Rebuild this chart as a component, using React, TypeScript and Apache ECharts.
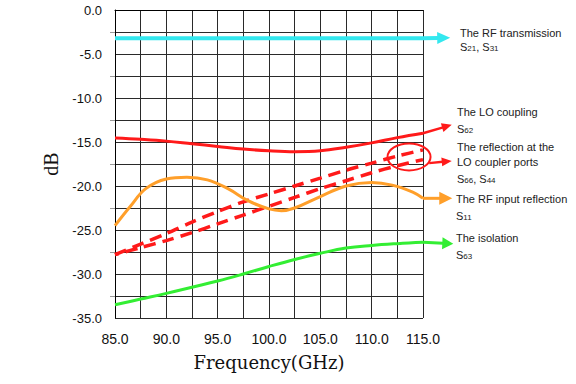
import React, { useEffect, useRef } from "react";
import * as echarts from "echarts";

// Frequency grid (GHz)
const freq = [85, 87.5, 90, 92.5, 95, 97.5, 100, 102.5, 105, 107.5, 110, 112.5, 115];
// S21, S31 — RF transmission (dB)
const rfTransmission = [-3.2, -3.2, -3.2, -3.2, -3.2, -3.2, -3.2, -3.2, -3.2, -3.2, -3.2, -3.2, -3.2];
// S62 — LO coupling (dB)
const loCoupling = [-14.55, -14.7, -14.9, -15.2, -15.5, -15.8, -16.0, -16.1, -16.0, -15.6, -15.1, -14.5, -14.0];
// S66 / S44 — reflection at the LO coupler ports (dB)
const reflS66 = [-27.8, -26.6, -25.4, -24.1, -22.9, -21.8, -20.9, -20.0, -19.1, -18.2, -17.4, -16.6, -15.9];
const reflS44 = [-27.8, -27.0, -26.2, -25.3, -24.3, -23.3, -22.3, -21.3, -20.3, -19.4, -18.5, -17.7, -17.0];
// S63 — isolation (dB)
const isolation = [-33.5, -32.85, -32.2, -31.5, -30.8, -30.0, -29.15, -28.35, -27.65, -27.05, -26.75, -26.55, -26.4];
// S11 — RF input reflection (dB), finer sampling
const inputReflFreq = [85, 86.5, 88, 90, 92, 94, 96, 98, 100, 101.2, 102.5, 105, 107.5, 110, 112, 114, 115];
const inputRefl = [-24.5, -22.3, -20.3, -19.2, -19.0, -19.3, -20.3, -21.7, -22.6, -22.8, -22.5, -21.2, -20.0, -19.6, -19.9, -20.7, -21.4];

const yTicks = [0, -5, -10, -15, -20, -25, -30, -35];
const xTicks = [85, 90, 95, 100, 105, 110, 115];

const CYAN = "#33e8ef";
const RED = "#ff1a1a";
const ORANGE = "#ff9f2a";
const GREEN = "#33ee33";

const pair = (xs: number[], ys: number[]) => xs.map((x, i) => [x, ys[i]]);

export default function App() {
  const ref = useRef<HTMLDivElement>(null);
  useEffect(() => {
    const el = ref.current!;
    const chart = echarts.init(el, null, { renderer: "svg" });
    const gridColor = "#2a2a2a";
    const option: any = {
      animation: false,
      backgroundColor: "#ffffff",
      grid: { left: 115, top: 10, width: 308, height: 308 },
      xAxis: {
        type: "value",
        min: xTicks[0],
        max: xTicks[xTicks.length - 1],
        interval: 5,
        name: "Frequency(GHz)",
        nameLocation: "middle",
        nameGap: 35,
        nameTextStyle: { fontFamily: "DejaVu Serif", fontSize: 18, color: "#111" },
        axisLine: { show: true, lineStyle: { color: "#000", width: 1 } },
        axisTick: { show: false },
        axisLabel: {
          margin: 14,
          fontFamily: "Liberation Sans",
          fontSize: 14,
          color: "#111",
          formatter: (v: number) => v.toFixed(1),
        },
        splitLine: { show: true, lineStyle: { color: gridColor, width: 1 } },
        minorTick: { show: false, splitNumber: 2 },
        minorSplitLine: { show: true, lineStyle: { color: gridColor, width: 1 } },
      },
      yAxis: {
        type: "value",
        min: yTicks[yTicks.length - 1],
        max: yTicks[0],
        interval: 5,
        name: "dB",
        nameLocation: "middle",
        nameGap: 52,
        nameTextStyle: { fontFamily: "Liberation Serif", fontSize: 20, color: "#111" },
        axisLine: { show: true, lineStyle: { color: "#000", width: 1 } },
        axisTick: { show: false },
        minorTick: { show: true, splitNumber: 2, length: 5, lineStyle: { color: "#999" } },
        axisLabel: {
          margin: 13,
          fontFamily: "Liberation Sans",
          fontSize: 13,
          color: "#111",
          formatter: (v: number) => v.toFixed(1),
        },
        splitLine: { show: true, lineStyle: { color: gridColor, width: 1 } },
        minorSplitLine: { show: true, lineStyle: { color: gridColor, width: 1 } },
      },
      series: [
        {
          name: "S21, S31",
          type: "line",
          data: pair(freq, rfTransmission),
          showSymbol: false,
          lineStyle: { color: CYAN, width: 4 },
        },
        {
          name: "S62",
          type: "line",
          data: pair(freq, loCoupling),
          smooth: 0.4,
          showSymbol: false,
          lineStyle: { color: RED, width: 3 },
        },
        {
          name: "S66",
          type: "line",
          data: pair(freq, reflS66),
          smooth: 0.3,
          showSymbol: false,
          lineStyle: { color: RED, width: 3.5, type: [12, 7] },
        },
        {
          name: "S44",
          type: "line",
          data: pair(freq, reflS44),
          smooth: 0.3,
          showSymbol: false,
          lineStyle: { color: RED, width: 3.5, type: [12, 7], dashOffset: 8 },
        },
        {
          name: "S11",
          type: "line",
          data: pair(inputReflFreq, inputRefl),
          smooth: 0.4,
          showSymbol: false,
          lineStyle: { color: ORANGE, width: 3 },
        },
        {
          name: "S63",
          type: "line",
          data: pair(freq, isolation),
          smooth: 0.4,
          showSymbol: false,
          lineStyle: { color: GREEN, width: 3 },
        },
      ],
    };
    chart.setOption(option);

    const px = (p: number[]) => chart.convertToPixel({ gridIndex: 0 }, p) as number[];
    const arrow = (from: number[], to: number[], color: string, lw: number, hl: number, hw: number) => {
      const a = px(from);
      const b = px(to);
      const dx = b[0] - a[0];
      const dy = b[1] - a[1];
      const len = Math.hypot(dx, dy) || 1;
      const ux = dx / len;
      const uy = dy / len;
      const bx = b[0] - ux * hl;
      const by = b[1] - uy * hl;
      const nx = -uy;
      const ny = ux;
      return [
        {
          type: "line",
          shape: { x1: a[0], y1: a[1], x2: bx + ux, y2: by + uy },
          style: { stroke: color, lineWidth: lw },
          silent: true,
        },
        {
          type: "polygon",
          shape: {
            points: [
              [b[0], b[1]],
              [bx + (nx * hw) / 2, by + (ny * hw) / 2],
              [bx - (nx * hw) / 2, by - (ny * hw) / 2],
            ],
          },
          style: { fill: color },
          silent: true,
        },
      ];
    };

    const last = freq.length - 1;
    const ellC = px([113.64, -16.7]);
    const text = (x: number, y: number, t: string) => ({
      type: "text",
      x,
      y,
      style: {
        text: t,
        fontFamily: "Liberation Sans",
        fontSize: 11,
        fill: "#222",
        verticalAlign: "middle",
        align: "left",
        rich: {
          s: { fontFamily: "Liberation Sans", fontSize: 11, fill: "#222", lineHeight: 14, verticalAlign: "bottom" },
          b: { fontFamily: "Liberation Sans", fontSize: 8, fill: "#222", lineHeight: 7, verticalAlign: "bottom" },
        },
      },
      silent: true,
    });

    const graphic: any[] = [
      ...arrow([freq[last], rfTransmission[last]], [117.65, -3.15], CYAN, 4, 13, 12),
      ...arrow([freq[last], loCoupling[last]], [117.8, -13.05], RED, 2.5, 10, 9),
      {
        type: "ellipse",
        shape: { cx: ellC[0], cy: ellC[1], rx: 21.5, ry: 13.5 },
        style: { fill: "none", stroke: RED, lineWidth: 2 },
        silent: true,
      },
      ...arrow([115.6, -17.4], [117.8, -17.15], RED, 2.5, 10, 9),
      ...arrow([freq[last], -21.4], [117.85, -21.4], ORANGE, 3, 13, 13),
      ...arrow([freq[last], isolation[last]], [117.95, -26.55], GREEN, 3, 11, 12),
      text(460, 33, "The RF transmission"),
      text(460, 45, "{s|S}{b|21}{s|, S}{b|31}"),
      text(457, 112, "The LO coupling"),
      text(457, 127, "{s|S}{b|62}"),
      text(457, 147, "The reflection at the"),
      text(457, 162, "LO coupler ports"),
      text(457, 177, "{s|S}{b|66}{s|, S}{b|44}"),
      text(456, 199, "The RF input reflection"),
      text(456, 214, "{s|S}{b|11}"),
      text(456, 238, "The isolation"),
      text(456, 253, "{s|S}{b|63}"),
    ];
    chart.setOption({ graphic });

    return () => chart.dispose();
  }, []);

  return (
    <div
      ref={ref}
      style={{ position: "fixed", left: 0, top: 0, width: 576, height: 384, background: "#fff" }}
    />
  );
}
